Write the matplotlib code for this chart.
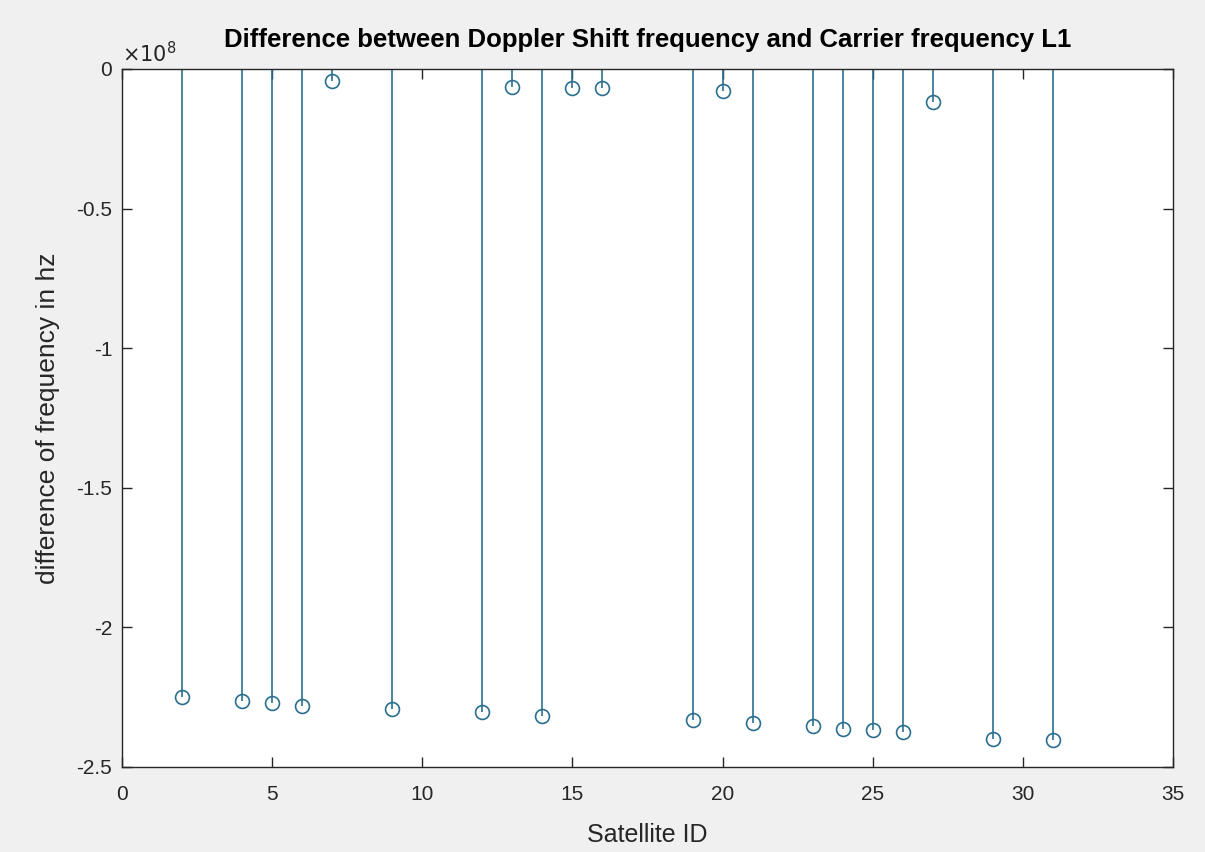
import matplotlib
matplotlib.use("Agg")
import matplotlib.pyplot as plt
from matplotlib.ticker import FuncFormatter, FixedLocator
import numpy as np

satellite_ids = [2, 4, 5, 6, 7, 9, 12, 13, 14, 15, 16, 19, 20, 21, 23, 24, 25, 26, 27, 29, 31]
freq_diff_hz = [-2.250e8, -2.265e8, -2.271e8, -2.283e8, -0.043e8, -2.291e8, -2.304e8,
                -0.063e8, -2.316e8, -0.068e8, -0.069e8, -2.332e8, -0.078e8, -2.342e8,
                -2.354e8, -2.363e8, -2.369e8, -2.375e8, -0.117e8, -2.399e8, -2.403e8]
x_ticks = [0, 5, 10, 15, 20, 25, 30, 35]
y_ticks = [-2.5e8, -2.0e8, -1.5e8, -1.0e8, -0.5e8, 0.0]

plt.rcParams['font.family'] = ['Liberation Sans', 'DejaVu Sans']

W, H = 1205, 852
fig = plt.figure(figsize=(W / 100, H / 100), dpi=100, facecolor='#f0f0f0')
ax = fig.add_axes([122 / W, 1 - 767 / H, (1173 - 122) / W, (767 - 69) / H])
ax.set_facecolor('white')

color = '#2a6f8f'
markerline, stemlines, baseline = ax.stem(satellite_ids, freq_diff_hz, basefmt=' ')
plt.setp(stemlines, color=color, linewidth=1.2)
plt.setp(markerline, color=color, marker='o', markerfacecolor='none',
         markeredgecolor=color, markersize=10, markeredgewidth=1.2)

ax.set_xlim(0, 35)
ax.set_ylim(-2.5e8, 0)
ax.xaxis.set_major_locator(FixedLocator(x_ticks))
ax.yaxis.set_major_locator(FixedLocator(y_ticks))
ax.xaxis.set_major_formatter(FuncFormatter(lambda v, p: f"{v:g}"))
ax.yaxis.set_major_formatter(FuncFormatter(lambda v, p: f"{v / 1e8:g}".replace('\u2212', '-')))
ax.tick_params(direction='in', length=7, width=1, top=True, right=True,
               labelsize=15, colors='#262626')
ax.tick_params(axis='x', pad=13)
ax.tick_params(axis='y', pad=7)
for s in ax.spines.values():
    s.set_color('#262626')
    s.set_linewidth(1.0)

ax.text(0.0, 1.004, r'$\times10^{8}$', transform=ax.transAxes, fontsize=15,
        color='#262626', ha='left', va='bottom', family='DejaVu Sans')

ax.set_title('Difference between Doppler Shift frequency and Carrier frequency L1',
             fontsize=18.5, fontweight='bold', pad=16, color='black')
ax.set_xlabel('Satellite ID', fontsize=18, color='#262626', labelpad=14)
ax.set_ylabel('difference of frequency in hz', fontsize=19, color='#262626', labelpad=12)

fig.savefig('out.png', dpi=100, facecolor=fig.get_facecolor())
